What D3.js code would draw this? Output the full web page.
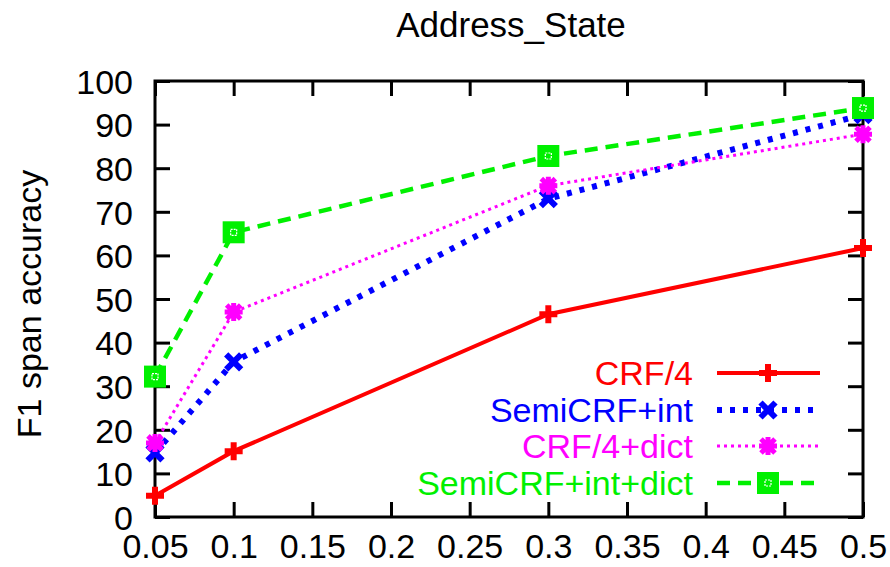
<!DOCTYPE html>
<html>
<head>
<meta charset="utf-8">
<script src="https://cdn.jsdelivr.net/npm/d3@7"></script>
<style>
  html, body { margin: 0; padding: 0; background: #fff; }
  svg { display: block; font-family: "Liberation Sans", Arial, sans-serif; }
</style>
</head>
<body>
<svg id="chart" width="890" height="567"></svg>
<script>
// Fraction of training data used
const fractions = [0.05, 0.1, 0.3, 0.5];
const xTicks = [0.05, 0.1, 0.15, 0.2, 0.25, 0.3, 0.35, 0.4, 0.45, 0.5];
const yTicks = [0, 10, 20, 30, 40, 50, 60, 70, 80, 90, 100];

// F1 span accuracy per method
const crf4 = [4.9, 15.1, 46.5, 61.7];
const semiInt = [14.7, 35.6, 73.0, 92.3];
const crf4Dict = [17.0, 47.0, 76.0, 87.8];
const semiIntDict = [32.2, 65.3, 82.8, 93.8];

const seriesNames = ["CRF/4", "SemiCRF+int", "CRF/4+dict", "SemiCRF+int+dict"];
const seriesValues = [crf4, semiInt, crf4Dict, semiIntDict];

const styles = [
  { color: "#ff0000", width: 4, dash: null, marker: "plus" },
  { color: "#0000ff", width: 6, dash: "5,8", marker: "cross" },
  { color: "#ff00ff", width: 3, dash: "3,4", marker: "star" },
  { color: "#00f000", width: 4.5, dash: "13,8", marker: "square" }
];

const svg = d3.select("#chart");
const margin = { left: 155, right: 27, top: 81, bottom: 50 };
const W = 890, H = 567;
const x = d3.scaleLinear().domain([0.05, 0.5]).range([margin.left, W - margin.right]);
const y = d3.scaleLinear().domain([0, 100]).range([H - margin.bottom, margin.top]);

const fontSize = 34;

// Title
svg.append("text")
  .attr("x", 511).attr("y", 37)
  .attr("text-anchor", "middle")
  .attr("font-size", 35)
  .text("Address_State");

// Y axis label
svg.append("text")
  .attr("transform", `translate(41,${(y(0) + y(100)) / 2 + 5}) rotate(-90)`)
  .attr("text-anchor", "middle")
  .attr("font-size", 34)
  .text("F1 span accuracy");

// Axes with inward ticks on all four sides
const tickLen = 15;
const axisG = svg.append("g");
const axisB = axisG.append("g").attr("transform", `translate(0,${y(0)})`)
  .call(d3.axisBottom(x).tickValues(xTicks).tickSize(-tickLen).tickPadding(17)
    .tickFormat(d => d3.format("")(+d.toFixed(2))));
axisG.append("g").attr("transform", `translate(0,${y(100)})`)
  .call(d3.axisTop(x).tickValues(xTicks).tickSize(-tickLen).tickFormat(""));
const axisL = axisG.append("g").attr("transform", `translate(${x(0.05)},0)`)
  .call(d3.axisLeft(y).tickValues(yTicks).tickSize(-tickLen).tickPadding(22));
axisG.append("g").attr("transform", `translate(${x(0.5)},0)`)
  .call(d3.axisRight(y).tickValues(yTicks).tickSize(-tickLen).tickFormat(""));

axisG.selectAll(".domain").remove();
axisG.selectAll(".tick line").attr("stroke", "#000").attr("stroke-width", 3);
axisG.selectAll(".tick text").attr("font-size", fontSize).attr("fill", "#000")
  .attr("font-family", "Liberation Sans, Arial, sans-serif");
axisB.selectAll(".tick text").attr("dy", "0.71em");
axisL.selectAll(".tick text").attr("dy", "0.36em");

// Frame
svg.append("rect")
  .attr("x", x(0.05)).attr("y", y(100))
  .attr("width", x(0.5) - x(0.05)).attr("height", y(0) - y(100))
  .attr("fill", "none").attr("stroke", "#000").attr("stroke-width", 3);

function drawMarker(g, type, color, cx, cy) {
  const s = 9;
  if (type === "plus") {
    g.append("path").attr("d", `M${cx - s},${cy}H${cx + s}M${cx},${cy - s}V${cy + s}`)
      .attr("stroke", color).attr("stroke-width", 6).attr("fill", "none");
  } else if (type === "cross") {
    const k = 7.5;
    g.append("path").attr("d", `M${cx - k},${cy - k}L${cx + k},${cy + k}M${cx - k},${cy + k}L${cx + k},${cy - k}`)
      .attr("stroke", color).attr("stroke-width", 6).attr("fill", "none");
  } else if (type === "star") {
    const k = 7;
    g.append("path").attr("d",
      `M${cx - s},${cy}H${cx + s}M${cx},${cy - s}V${cy + s}` +
      `M${cx - k},${cy - k}L${cx + k},${cy + k}M${cx - k},${cy + k}L${cx + k},${cy - k}`)
      .attr("stroke", color).attr("stroke-width", 5).attr("fill", "none");
  } else if (type === "square") {
    g.append("rect").attr("x", cx - 11).attr("y", cy - 11).attr("width", 22).attr("height", 22)
      .attr("fill", color);
    g.append("rect").attr("x", cx - 3).attr("y", cy - 3).attr("width", 6).attr("height", 6)
      .attr("fill", "none").attr("stroke", "#fff").attr("stroke-width", 1.2).attr("stroke-dasharray", "2,1");
  }
}

// Series lines and markers
const line = d3.line().x((d, i) => x(fractions[i])).y(d => y(d));
seriesValues.forEach((vals, si) => {
  const st = styles[si];
  const g = svg.append("g");
  g.append("path").datum(vals).attr("d", line)
    .attr("fill", "none").attr("stroke", st.color).attr("stroke-width", st.width)
    .attr("stroke-dasharray", st.dash);
  vals.forEach((v, i) => drawMarker(g, st.marker, st.color, x(fractions[i]), y(v)));
});

// Legend
const legendY = [373, 410, 446, 483];
seriesNames.forEach((name, si) => {
  const st = styles[si];
  const ly = legendY[si];
  svg.append("text").attr("x", 693).attr("y", ly).attr("dy", "0.36em")
    .attr("text-anchor", "end").attr("font-size", fontSize).attr("fill", st.color)
    .text(name);
  const g = svg.append("g");
  g.append("line").attr("x1", 717).attr("x2", 820).attr("y1", ly).attr("y2", ly)
    .attr("stroke", st.color).attr("stroke-width", st.width).attr("stroke-dasharray", st.dash);
  drawMarker(g, st.marker, st.color, 768, ly);
});
</script>
</body>
</html>
